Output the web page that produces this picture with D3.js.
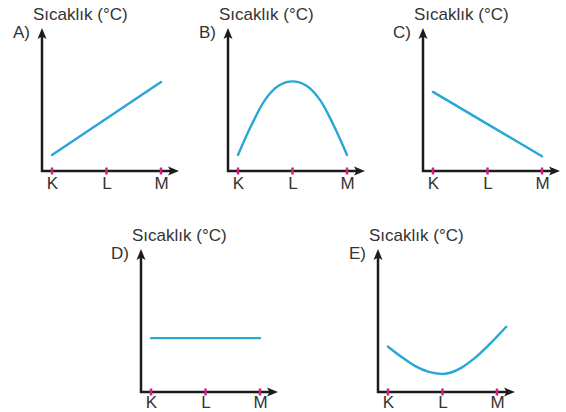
<!DOCTYPE html>
<html><head><meta charset="utf-8">
<script src="https://cdn.jsdelivr.net/npm/d3@7/dist/d3.min.js"></script>
<style>
html,body{margin:0;padding:0;background:#fff;}
svg{display:block;}
text{font-family:"Liberation Sans",Arial,sans-serif;fill:#333333;}
</style></head>
<body>
<svg id="chart" width="566" height="412"></svg>
<script>
// ---- data ----
const categories = ["K", "L", "M"];
const categoryPos = [0, 1, 2];
const yTitle = "Sıcaklık (°C)";
const panelLabels = ["A)", "B)", "C)", "D)", "E)"];
// x positions (0 = K, 1 = L, 2 = M) and temperatures (relative units 0-100)
const xA = [0, 1, 2];
const tempA = [11.5, 37.5, 63.5];
const xB = [0, 0.25, 0.5, 0.75, 1, 1.25, 1.5, 1.75, 2];
const tempB = [11.5, 33, 51, 61, 64, 61, 51, 33, 11.5];
const xC = [0, 1, 2];
const tempC = [56.5, 33.5, 10.5];
const xD = [0, 1, 2];
const tempD = [38.5, 38.5, 38.5];
const xE = [0, 0.25, 0.5, 0.75, 1, 1.1, 1.35, 1.6, 1.85, 2.17];
const tempE = [32.4, 25, 18.5, 14.4, 12.9, 13.4, 17.4, 24.5, 33.6, 46.6];

// ---- layout (not data) ----
const layout = [
  {ox: 42,  oy: 171, lab: 0.7},
  {ox: 228, oy: 171, lab: 0.7},
  {ox: 423, oy: 171, lab: 0.7},
  {ox: 141, oy: 392, lab: 0.6},
  {ox: 378, oy: 392, lab: 0.6}
];
const xsList = [xA, xB, xC, xD, xE];
const tsList = [tempA, tempB, tempC, tempD, tempE];
const curves = [d3.curveLinear, d3.curveCatmullRom, d3.curveLinear, d3.curveLinear, d3.curveMonotoneX];

const svg = d3.select("#chart");
const axisColor = "#1c1c1c", tickColor = "#d0237f", lineColor = "#27a7d5";

layout.forEach((p, i) => {
  const g = svg.append("g");
  const x = d3.scaleLinear().domain([0, 2]).range([p.ox + 10, p.ox + 119]);
  const y = d3.scaleLinear().domain([0, 100]).range([p.oy, p.oy - 140]);
  const xEnd = p.ox + 137, yEnd = p.oy - 143;

  // axes lines
  g.append("line").attr("x1", p.ox).attr("y1", p.oy + 1).attr("x2", p.ox).attr("y2", yEnd + 8)
    .attr("stroke", axisColor).attr("stroke-width", 2.5);
  g.append("line").attr("x1", p.ox - 1).attr("y1", p.oy).attr("x2", xEnd - 8).attr("y2", p.oy)
    .attr("stroke", axisColor).attr("stroke-width", 2.5);
  // arrowheads
  g.append("path").attr("d", `M${p.ox},${yEnd} L${p.ox - 4.5},${yEnd + 11} L${p.ox},${yEnd + 8.5} L${p.ox + 4.5},${yEnd + 11} Z`)
    .attr("fill", axisColor);
  g.append("path").attr("d", `M${xEnd},${p.oy} L${xEnd - 11},${p.oy - 4.5} L${xEnd - 8.5},${p.oy} L${xEnd - 11},${p.oy + 4.5} Z`)
    .attr("fill", axisColor);

  // x axis labels via d3 axis
  const ax = d3.axisBottom(x).tickValues(categoryPos).tickFormat((d, j) => categories[j])
    .tickSize(0).tickPadding(6);
  const axg = g.append("g").attr("transform", `translate(0,${p.oy})`).call(ax);
  axg.select(".domain").remove();
  axg.selectAll("text").attr("font-size", 17).attr("fill", "#333333")
    .style("font-family", '"Liberation Sans",Arial,sans-serif').attr("dy", p.lab + "em");

  // magenta tick marks
  g.selectAll("line.tk").data(categoryPos).join("line").attr("class", "tk")
    .attr("x1", d => x(d)).attr("x2", d => x(d))
    .attr("y1", p.oy - 3.5).attr("y2", p.oy + 3.5)
    .attr("stroke", tickColor).attr("stroke-width", 2.5);

  // series line
  const pts = xsList[i].map((v, j) => [v, tsList[i][j]]);
  const line = d3.line().x(d => x(d[0])).y(d => y(d[1])).curve(curves[i]);
  g.append("path").datum(pts).attr("d", line)
    .attr("fill", "none").attr("stroke", lineColor).attr("stroke-width", 2.4).attr("stroke-linecap", "round");

  // titles
  g.append("text").attr("x", p.ox - 9).attr("y", p.oy - 151).attr("font-size", 17).text(yTitle);
  g.append("text").attr("x", p.ox - 12).attr("y", p.oy - 133).attr("font-size", 17)
    .attr("text-anchor", "end").text(panelLabels[i]);
});
</script>
</body></html>
